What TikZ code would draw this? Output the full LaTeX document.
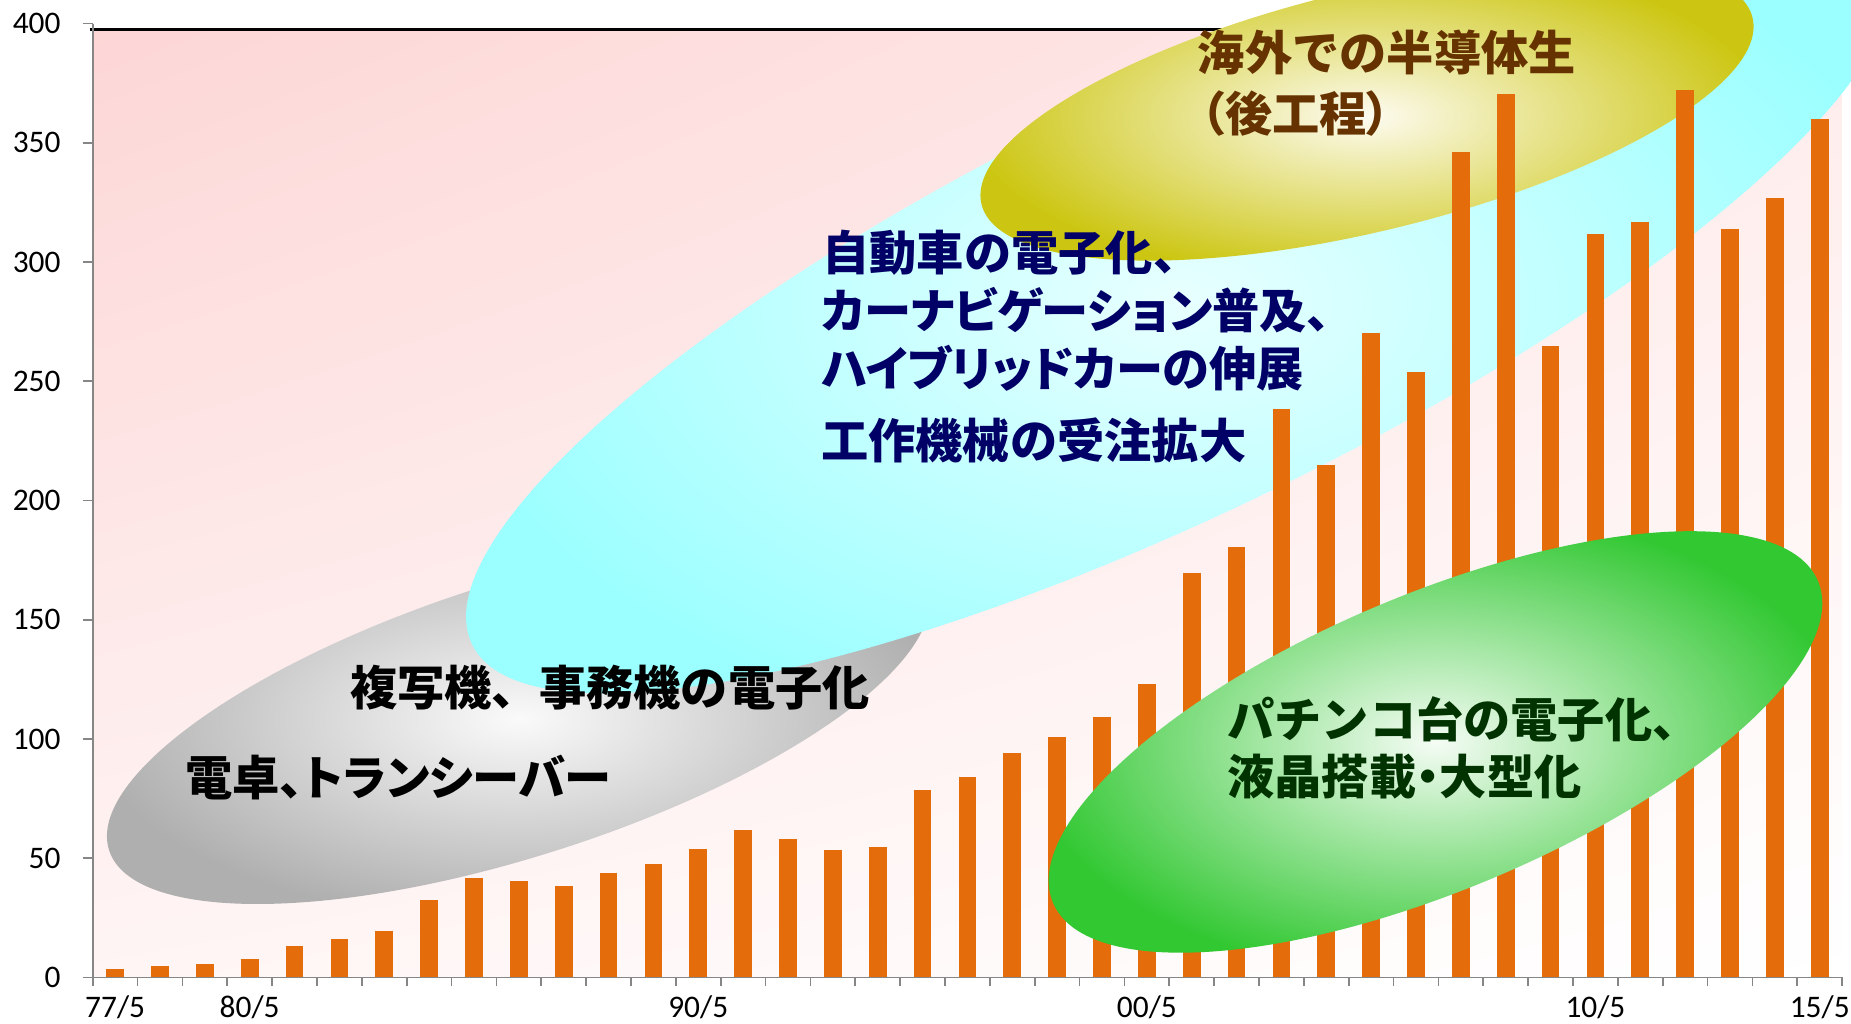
\documentclass[tikz,border=0pt]{standalone}
\usepackage{fontspec}
\usetikzlibrary{shadings}
\newfontfamily\jpfont{Noto Sans CJK JP}
\newfontfamily\jppfont{Noto Sans CJK JP}[RawFeature=+palt]
\newfontfamily\axisfont{Carlito}

\definecolor{barorange}{RGB}{228,108,10}
\definecolor{axisgray}{RGB}{134,134,134}
\definecolor{bgpinkul}{RGB}{253,214,214}
\definecolor{bgpinkur}{RGB}{255,236,236}
\definecolor{bgpinkll}{RGB}{255,245,245}
\definecolor{bgpinklr}{RGB}{255,255,255}
\definecolor{grayin}{RGB}{250,250,250}
\definecolor{grayout}{RGB}{175,175,175}
\definecolor{cyanin}{RGB}{232,255,255}
\definecolor{cyanout}{RGB}{155,255,255}
\definecolor{yellowin}{RGB}{253,251,240}
\definecolor{yellowout}{RGB}{204,198,18}
\definecolor{greenin}{RGB}{245,252,245}
\definecolor{greenout}{RGB}{50,200,50}
\definecolor{navytext}{RGB}{0,0,102}
\definecolor{browntext}{RGB}{102,51,0}
\definecolor{greentext}{RGB}{0,51,0}

\tikzset{every picture/.style={line width=0.75pt},
  jplabel/.style={anchor=west, inner sep=0pt, font=\jpfont\bfseries\fontsize{20pt}{24pt}\selectfont},
  jpplabel/.style={jplabel, font=\jppfont\bfseries\fontsize{20pt}{24pt}\selectfont},
  axislabel/.style={inner sep=0pt, font=\axisfont\fontsize{13.3pt}{16pt}\selectfont}}

\newcommand{\narrowmark}[1]{{\jppfont\bfseries #1}}

\begin{document}
\begin{tikzpicture}[x=0.5pt,y=0.5pt,yscale=-1,xscale=1]
	\useasboundingbox (0,0) rectangle (1568,867.4);

	%Shape: Rectangle [plot area]
	\shade [upper left=bgpinkul, upper right=bgpinkur, lower left=bgpinkll, lower right=bgpinklr] (78.5,25) rectangle (1560,828);
	%Straight Lines [top border]
	\draw [line width=1.5pt] (76,25) -- (1560,25);

	%Shape: Ellipse [gray]
	\shade [inner color=grayin, outer color=grayout, rotate around={-17.8:(439,609)}] (439,609) ellipse [x radius=364, y radius=116];
	%Shape: Ellipse [cyan]
	\shade [inner color=cyanin, outer color=cyanout, rotate around={-25.9:(999,255)}] (999,255) ellipse [x radius=666, y radius=178.5];
	%Shape: Ellipse [yellow]
	\shade [inner color=yellowin, outer color=yellowout, rotate around={-13.6:(1158,94)}] (1158,94) ellipse [x radius=336, y radius=102];

	%Shape: Bars
	\foreach \v [count=\i from 0] in {3.6,4.6,5.6,7.7,13.3,16.2,19.4,32.6,41.9,40.5,38.3,44,47.5,53.8,61.9,58.1,53.4,54.8,78.6,84.2,94,100.7,109.1,123.2,169.7,180.4,238.2,214.9,270.1,254,346,370.6,264.6,311.9,316.7,372.2,314,327,360.2}
	  \fill [barorange] ({90+38*\i},828) rectangle ({105+38*\i},{828-2.02*\v});

	%Shape: Ellipse [green]
	\shade [inner color=greenin, outer color=greenout, rotate around={-22.8:(1216,628.5)}] (1216,628.5) ellipse [x radius=351.5, y radius=125.2];

	%Straight Lines [axes]
	\draw [axisgray] (78.5,20) -- (78.5,828) -- (1560,828);
	\foreach \k in {0,...,8}
	  \draw [axisgray] (70,{828-101*\k}) -- (78.5,{828-101*\k});
	\foreach \k in {0,...,39}
	  \draw [axisgray] ({78.5+38*\k},828) -- ({78.5+38*\k},835);

	% Text Node
	\foreach \lab [count=\k from 0] in {0,50,100,150,200,250,300,350,400}
	  \node [axislabel, anchor=east] (ylab\k) at (52,{828-101*\k}) {\lab};
	% Text Node
	\node [axislabel] (xlab77) at (97.5,853) {77/5};
	\node [axislabel] (xlab80) at (211.5,853) {80/5};
	\node [axislabel] (xlab90) at (591.5,853) {90/5};
	\node [axislabel] (xlab00) at (971.5,853) {00/5};
	\node [axislabel] (xlab10) at (1351.5,853) {10/5};
	\node [axislabel] (xlab15) at (1541.5,853) {15/5};

	% Text Node
	\node [jplabel, text=browntext] (semi1) at (1014,44.5) {海外での半導体生};
	\node [jpplabel, text=browntext] (semi2) at (1017,96) {（後工程）};
	% Text Node
	\node [jplabel, text=navytext] (car1) at (696,214) {自動車の電子化、};
	\node [jpplabel, text=navytext] (car2) at (695,263) {カーナビゲーション普及、};
	\node [jpplabel, text=navytext] (car3) at (695,312) {ハイブリッドカーの伸展};
	\node [jplabel, text=navytext] (tool) at (695,373) {工作機械の受注拡大};
	% Text Node
	\node [jplabel] (office) at (296,582.4) {複写機、事務機の電子化};
	\node [jpplabel] (calc) at (156.5,658.6) {電卓、トランシーバー};
	% Text Node
	\node [jplabel, text=greentext] (pachi1) at (1039,609) {パチンコ台の電子化、};
	\node [jplabel, text=greentext] (pachi2) at (1039,658) {液晶搭載\narrowmark{・}大型化};

\end{tikzpicture}
\end{document}
